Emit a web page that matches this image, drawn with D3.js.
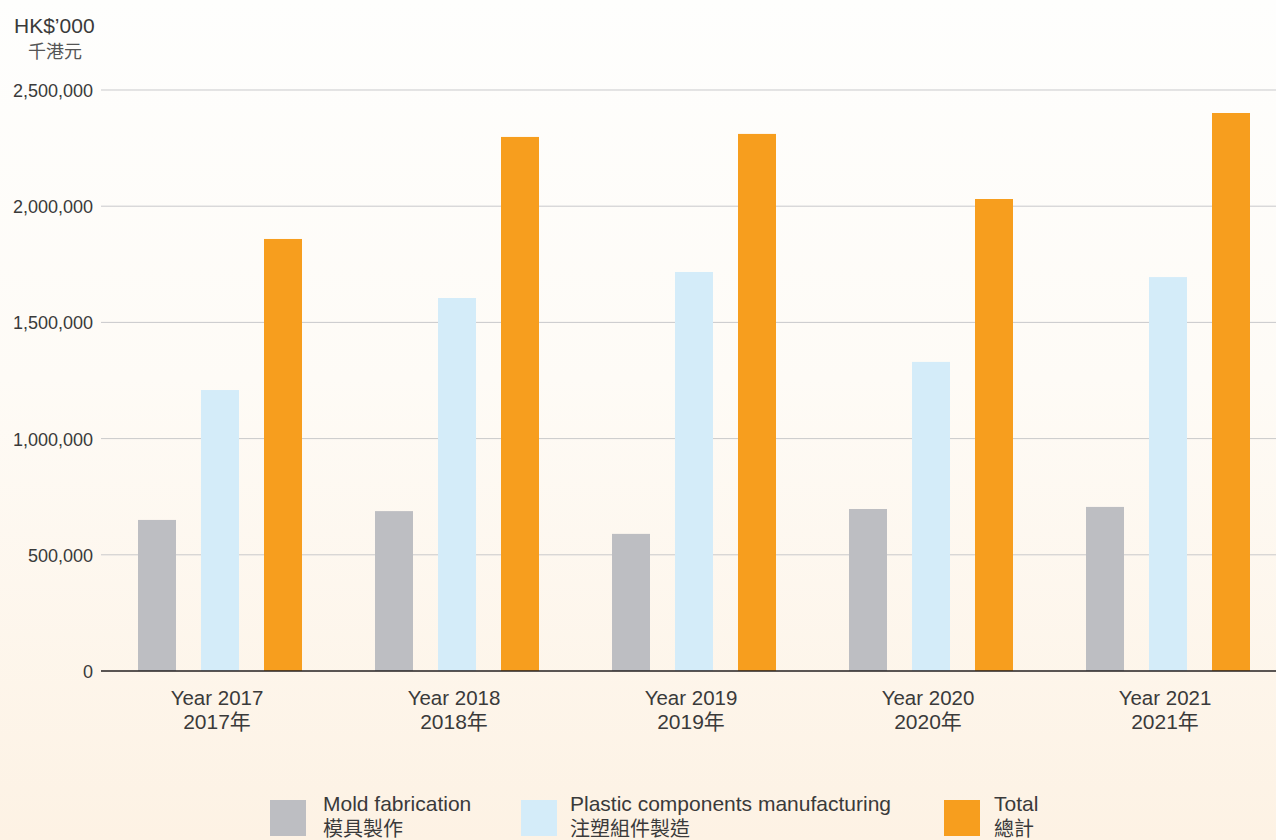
<!DOCTYPE html>
<html>
<head>
<meta charset="utf-8">
<script src="https://cdn.jsdelivr.net/npm/d3@7"></script>
<style>
  html, body { margin: 0; padding: 0; background: #fff; }
  svg { display: block; font-family: "Liberation Sans", Arial, "Noto Sans CJK TC", sans-serif; }
  .tick text { fill: #3a3a3a; }
</style>
</head>
<body>
<svg></svg>
<script>
// data
const years = ["2017", "2018", "2019", "2020", "2021"]
const seriesKeys = ["mold", "plastic", "total"]
const seriesEn = ["Mold fabrication", "Plastic components manufacturing", "Total"]
const seriesZh = ["模具製作", "注塑組件製造", "總計"]
const seriesColors = ["#bdbec2", "#d4ecf9", "#f79e1e"]
const moldValues = [650000, 688000, 590000, 697000, 706000]
const plasticValues = [1209000, 1605000, 1717000, 1330000, 1695000]
const totalValues = [1859000, 2298000, 2311000, 2031000, 2401000]
const yTicks = [0, 500000, 1000000, 1500000, 2000000, 2500000]

const W = 1276, H = 840
const svg = d3.select("svg")
  .attr("width", W)
  .attr("height", H)
  .attr("viewBox", `0 0 ${W} ${H}`)

// background gradient
const defs = svg.append("defs")
const grad = defs.append("linearGradient")
  .attr("id", "bg")
  .attr("x1", 0).attr("y1", 0).attr("x2", 0).attr("y2", 1)
grad.append("stop").attr("offset", "0%").attr("stop-color", "#fefefd")
grad.append("stop").attr("offset", "45%").attr("stop-color", "#fefbf6")
grad.append("stop").attr("offset", "100%").attr("stop-color", "#fdf2e4")

svg.append("rect")
  .attr("width", W).attr("height", H)
  .attr("fill", "url(#bg)")

const rows = years.map((y, i) => ({
  year: y,
  mold: moldValues[i],
  plastic: plasticValues[i],
  total: totalValues[i]
}))

// scales
const y = d3.scaleLinear()
  .domain([0, 2500000])
  .range([671, 90])

const x = d3.scaleBand()
  .domain(years)
  .range([101, 1286])

const xInner = d3.scaleBand()
  .domain(seriesKeys)
  .range([37, 201])
  .paddingInner(25 / 63)

// grid lines
svg.append("g")
  .attr("class", "grid")
  .selectAll("line")
  .data(yTicks.filter(d => d > 0))
  .enter()
  .append("line")
  .attr("x1", 101).attr("x2", W)
  .attr("y1", d => y(d)).attr("y2", d => y(d))
  .attr("stroke", "#c9c9cb")
  .attr("stroke-width", 1)

// y axis labels
const yAxis = d3.axisLeft(y)
  .tickValues(yTicks)
  .tickFormat(d3.format(","))
  .tickSize(0)
  .tickPadding(8)

svg.append("g")
  .attr("transform", "translate(101,0)")
  .call(yAxis)
  .call(g => g.select(".domain").remove())
  .selectAll("text")
  .attr("font-size", 18)
  .attr("dy", "0.36em")

// bars
const groups = svg.append("g")
  .selectAll("g")
  .data(rows)
  .enter()
  .append("g")
  .attr("transform", d => `translate(${x(d.year)},0)`)

groups.selectAll("rect")
  .data(d => seriesKeys.map((k, i) => ({ key: k, value: d[k], color: seriesColors[i] })))
  .enter()
  .append("rect")
  .attr("x", d => xInner(d.key))
  .attr("width", xInner.bandwidth())
  .attr("y", d => y(d.value))
  .attr("height", d => y(0) - y(d.value))
  .attr("fill", d => d.color)

// baseline
svg.append("line")
  .attr("x1", 101).attr("x2", W)
  .attr("y1", y(0)).attr("y2", y(0))
  .attr("stroke", "#231f20")
  .attr("stroke-width", 1.3)

// x labels
const labelX = d => x(d) + xInner("plastic") + xInner.bandwidth() / 2 - 3
const xLab = svg.append("g")
  .selectAll("text")
  .data(years)
  .enter()
  .append("text")
  .attr("text-anchor", "middle")
  .attr("font-size", 20.5)
  .attr("fill", "#3a3a3a")
  .attr("x", labelX)
xLab.append("tspan")
  .attr("y", 705)
  .text(d => "Year " + d)
xLab.append("tspan")
  .attr("x", labelX)
  .attr("y", 729)
  .attr("font-size", 21)
  .text(d => d + "年")

// unit label
svg.append("text")
  .attr("x", 14).attr("y", 33)
  .attr("font-size", 21)
  .attr("fill", "#3a3a3a")
  .text("HK$’000")
svg.append("text")
  .attr("x", 28).attr("y", 58)
  .attr("font-size", 18)
  .attr("fill", "#555")
  .text("千港元")

// legend
const legendX = [270, 521, 944]
const legendTextX = [53, 49, 50]
const legend = svg.append("g")
  .selectAll("g")
  .data(seriesKeys)
  .enter()
  .append("g")
  .attr("transform", (d, i) => `translate(${legendX[i]},800)`)

legend.append("rect")
  .attr("width", 36).attr("height", 36)
  .attr("fill", (d, i) => seriesColors[i])

legend.append("text")
  .attr("x", (d, i) => legendTextX[i]).attr("y", 11)
  .attr("font-size", 21)
  .attr("fill", "#3a3a3a")
  .text((d, i) => seriesEn[i])

legend.append("text")
  .attr("x", (d, i) => legendTextX[i]).attr("y", 35.5)
  .attr("font-size", 20)
  .attr("fill", "#3a3a3a")
  .text((d, i) => seriesZh[i])
</script>
</body>
</html>
